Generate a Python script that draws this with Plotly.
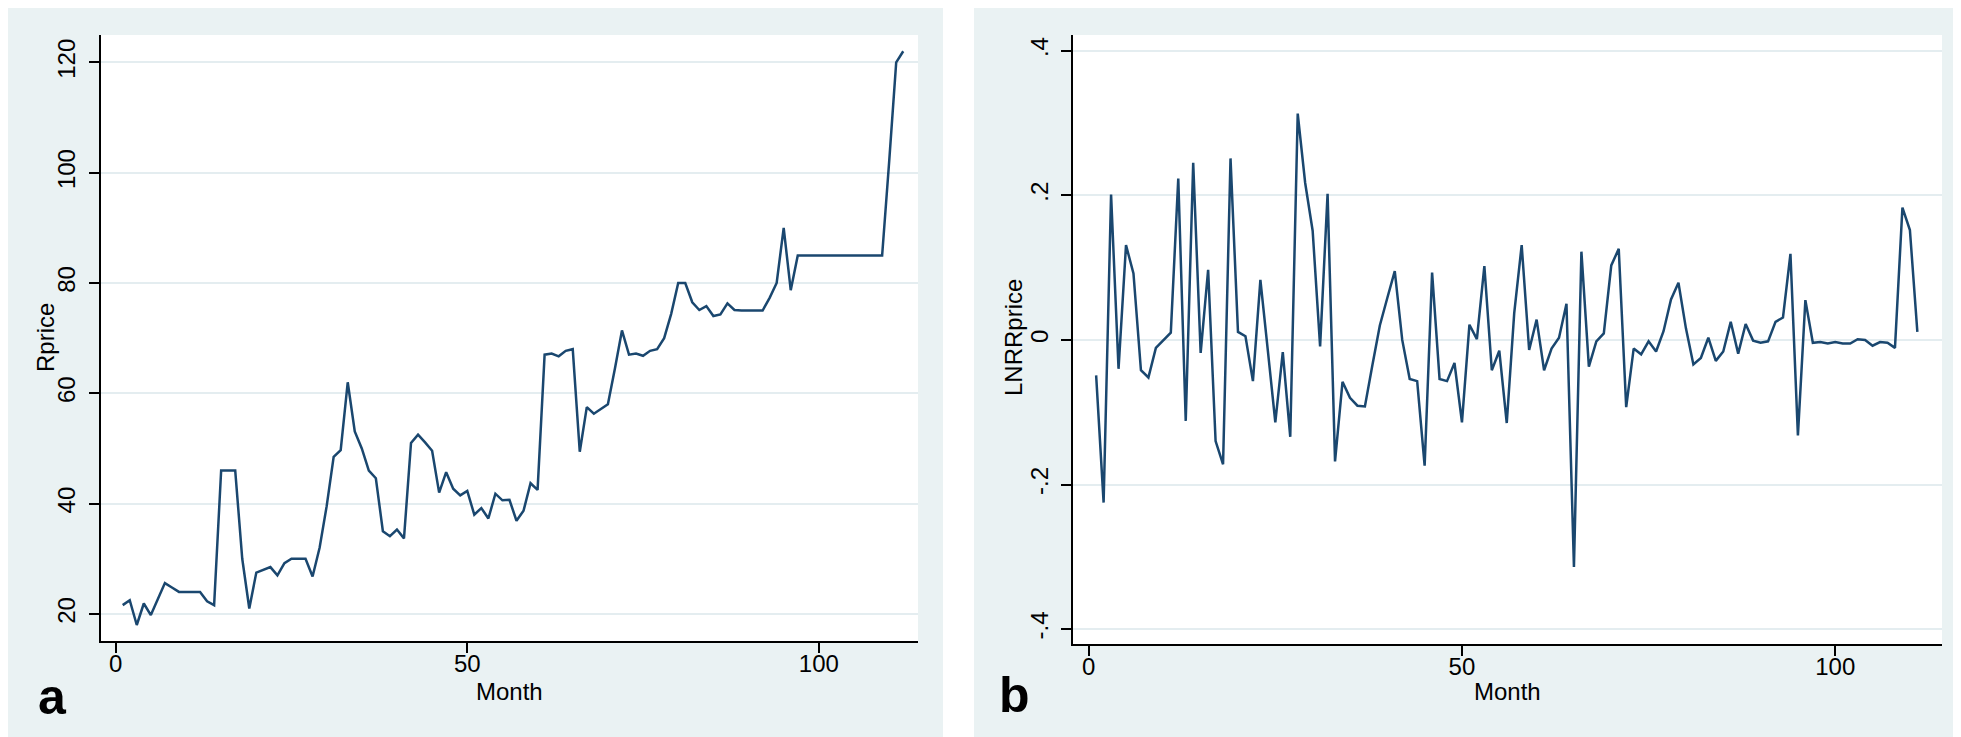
import plotly.graph_objects as go

W, H = 1961, 737

# ---------------- data ----------------
months_a = list(range(1, 113))
rprice = [21.6, 22.5, 18.0, 21.9, 19.8, 22.8, 25.6, 24.8, 24.0, 24.0,
          24.0, 24.0, 22.3, 21.6, 46.0, 46.0, 46.0, 30.0, 21.0, 27.5,
          28.0, 28.5, 27.0, 29.2, 30.0, 30.0, 30.0, 26.8, 32.0, 39.5,
          48.5, 49.7, 62.0, 53.1, 50.0, 46.0, 44.6, 35.0, 34.1, 35.3,
          33.7, 51.0, 52.5, 51.1, 49.6, 42.0, 45.7, 42.7, 41.5, 42.3,
          38.0, 39.2, 37.3, 41.8, 40.6, 40.7, 36.9, 38.7, 43.7, 42.5,
          67.0, 67.2, 66.7, 67.7, 68.0, 49.4, 57.5, 56.3, 57.2, 58.0,
          64.5, 71.4, 67.0, 67.2, 66.8, 67.7, 68.0, 70.0, 74.4, 80.0,
          80.0, 76.5, 75.1, 75.8, 74.0, 74.3, 76.3, 75.1, 75.0, 75.0,
          75.0, 75.0, 77.3, 80.0, 90.0, 78.7, 85.0, 85.0, 85.0, 85.0,
          85.0, 85.0, 85.0, 85.0, 85.0, 85.0, 85.0, 85.0, 85.0, 102.0,
          120.0, 122.0]

months_b = list(range(1, 112))
lnrrprice = [-0.049, -0.225, 0.201, -0.040, 0.131, 0.092, -0.042, -0.052, -0.011, 0.000,
             0.010, 0.223, -0.112, 0.245, -0.018, 0.097, -0.140, -0.172, 0.251, 0.011,
             0.005, -0.057, 0.083, -0.015, -0.114, -0.017, -0.134, 0.313, 0.217, 0.151,
             -0.009, 0.202, -0.168, -0.058, -0.080, -0.091, -0.092, -0.035, 0.020, 0.058,
             0.095, 0.000, -0.054, -0.057, -0.174, 0.093, -0.054, -0.057, -0.032, -0.114,
             0.021, 0.001, 0.102, -0.042, -0.015, -0.115, 0.037, 0.131, -0.014, 0.028,
             -0.042, -0.012, 0.003, 0.050, -0.314, 0.122, -0.037, -0.002, 0.009, 0.103,
             0.126, -0.093, -0.012, -0.020, -0.002, -0.016, 0.012, 0.056, 0.079, 0.016,
             -0.034, -0.025, 0.003, -0.029, -0.016, 0.025, -0.019, 0.022, -0.001, -0.004,
             -0.002, 0.025, 0.031, 0.119, -0.132, 0.055, -0.004, -0.003, -0.005, -0.003,
             -0.005, -0.005, 0.001, 0.000, -0.008, -0.003, -0.004, -0.011, 0.183, 0.152,
             0.011]

a_yticks = [20, 40, 60, 80, 100, 120]
b_yticks = [-0.4, -0.2, 0, 0.2, 0.4]
b_yticklabels = ["-.4", "-.2", "0", ".2", ".4"]
x_ticks = [0, 50, 100]

# ---------------- style ----------------
BG = "#EAF2F3"
GRID = "#E4EDF0"
LINE = "#1A476F"
FONT = "Liberation Sans, Arial, sans-serif"
FS = 24


def px_x(p):
    return p / W


def px_y(p):
    return 1 - p / H


fig = go.Figure()
fig.add_trace(go.Scatter(x=months_a, y=rprice, mode="lines",
                         line=dict(color=LINE, width=2.5),
                         xaxis="x", yaxis="y", showlegend=False))
fig.add_trace(go.Scatter(x=months_b, y=lnrrprice, mode="lines",
                         line=dict(color=LINE, width=2.5),
                         xaxis="x2", yaxis="y2", showlegend=False))

axis_common = dict(showline=True, linecolor="black", linewidth=1.5,
                   ticks="outside", ticklen=10, tickwidth=1.5, tickcolor="black",
                   tickfont=dict(family=FONT, size=FS, color="black"),
                   zeroline=False, mirror=False)

top_px, bot_a, bot_b = 27, 633, 636

fig.update_layout(
    width=W, height=H,
    margin=dict(l=0, r=0, t=0, b=0),
    paper_bgcolor=BG,
    plot_bgcolor="white",
    xaxis=dict(domain=[px_x(92.7), px_x(910)], range=[-2.13, 114.1],
               tickvals=x_ticks, showgrid=False, anchor="y",
               ticklabelstandoff=-10, **axis_common),
    yaxis=dict(domain=[px_y(bot_a), px_y(top_px)], range=[15.1, 124.95],
               tickvals=a_yticks, showgrid=True, gridcolor=GRID, gridwidth=2,
               tickangle=-90, anchor="x", ticklabelstandoff=4, **axis_common),
    xaxis2=dict(domain=[px_x(1065), px_x(1934)], range=[-2.1, 114.3],
                tickvals=x_ticks, showgrid=False, anchor="y2",
                ticklabelstandoff=-10, **axis_common),
    yaxis2=dict(domain=[px_y(bot_b), px_y(top_px)], range=[-0.4206, 0.4217],
                tickvals=b_yticks, ticktext=b_yticklabels, showgrid=True,
                gridcolor=GRID, gridwidth=2, tickangle=-90, anchor="x2",
                ticklabelstandoff=4, **axis_common),
    shapes=[
        # white gap between the two panels
        dict(type="rect", xref="paper", yref="paper", layer="below",
             x0=px_x(935), x1=px_x(966), y0=0, y1=1,
             fillcolor="white", line=dict(width=0)),
        # thin white strip at bottom of left panel
        dict(type="rect", xref="paper", yref="paper", layer="below",
             x0=0, x1=px_x(966), y0=0, y1=px_y(733),
             fillcolor="white", line=dict(width=0)),
    ],
)

ann = []
ann.append(dict(text="Month", x=px_x(501), y=px_y(683), xref="paper", yref="paper",
                showarrow=False, xanchor="center", yanchor="middle",
                font=dict(family=FONT, size=FS, color="black")))
ann.append(dict(text="Month", x=px_x(1499.5), y=px_y(683), xref="paper", yref="paper",
                showarrow=False, xanchor="center", yanchor="middle",
                font=dict(family=FONT, size=FS, color="black")))
ann.append(dict(text="Rprice", x=px_x(38), y=px_y(330), xref="paper", yref="paper",
                showarrow=False, xanchor="center", yanchor="middle", textangle=-90,
                font=dict(family=FONT, size=FS, color="black")))
ann.append(dict(text="LNRRprice", x=px_x(1006), y=px_y(330), xref="paper", yref="paper",
                showarrow=False, xanchor="center", yanchor="middle", textangle=-90,
                font=dict(family=FONT, size=FS, color="black")))
ann.append(dict(text="<b>a</b>", x=px_x(44), y=px_y(689), xref="paper", yref="paper",
                showarrow=False, xanchor="center", yanchor="middle",
                font=dict(family=FONT, size=50, color="black")))
ann.append(dict(text="<b>b</b>", x=px_x(1006), y=px_y(687), xref="paper", yref="paper",
                showarrow=False, xanchor="center", yanchor="middle",
                font=dict(family=FONT, size=50, color="black")))
fig.update_layout(annotations=ann)

fig.write_html("out.html")
